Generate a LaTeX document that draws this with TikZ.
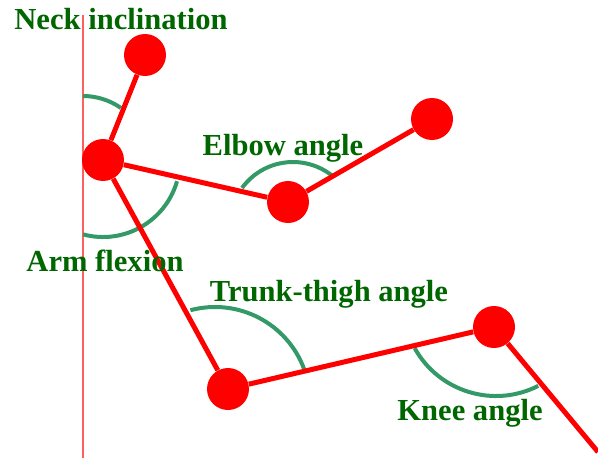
\documentclass[tikz,border=0pt]{standalone}
\usepackage{fontspec}
\setmainfont{Liberation Serif}
\usetikzlibrary{positioning}
\definecolor{limbred}{RGB}{255,0,0}
\definecolor{axisred}{RGB}{255,95,95}
\definecolor{arcgreen}{RGB}{51,153,102}
\definecolor{lblgreen}{RGB}{0,102,0}

\begin{document}
\begin{tikzpicture}[x=0.02cm, y=0.02cm,
    joint/.style={circle, fill=limbred, inner sep=0pt, minimum size=0.84cm},
    limb/.style={limbred, line width=0.1cm},
    anglearc/.style={arcgreen, line width=0.08cm},
    axisline/.style={axisred, line width=0.03cm},
    lbl/.style={text=lblgreen, font=\fontsize{17.4}{20}\selectfont\bfseries, anchor=base, inner sep=0pt}]
    \useasboundingbox (0,0) rectangle (598,458);
    % vertical reference
    \coordinate (vtop) at (83,443);
    \coordinate (vbot) at (83,0);
    \draw[axisline] (vtop) -- (vbot);
    % angle arcs
    \draw[anglearc] (83,296) ++(90:66) arc[start angle=90, end angle=55, radius=66];
    \draw[anglearc] (103,298) ++(-105:77) arc[start angle=-105, end angle=-16, radius=77];
    \draw[anglearc] (293,233) ++(144:63) arc[start angle=144, end angle=50, radius=63];
    \draw[anglearc] (215,56) ++(105:95) arc[start angle=105, end angle=20, radius=95];
    \draw[anglearc] (496,155) ++(209:93) arc[start angle=209, end angle=297, radius=93];
    % joints
    \node[joint] (head) at (145,403) {};
    \node[joint] (shoulder) at (103,298) {};
    \node[joint] (elbow) at (288,256) {};
    \node[joint] (hand) at (432,339) {};
    \node[joint] (hip) at (228,69) {};
    \node[joint] (knee) at (494,131) {};
    \coordinate (foot) at (598,6);
    % limbs
    \draw[limb] (shoulder) -- (head);
    \draw[limb] (shoulder) -- (elbow);
    \draw[limb] (elbow) -- (hand);
    \draw[limb] (shoulder) -- (hip);
    \draw[limb] (hip) -- (knee);
    \draw[limb] (knee) -- (foot);
    % labels
    \node[lbl] (necklbl) at (121,429) {Neck inclination};
    \node[lbl] (elbowlbl) at (283,303) {Elbow angle};
    \node[lbl] (armlbl) at (105,187) {Arm flexion};
    \node[lbl] (trunklbl) at (329,157) {Trunk-thigh angle};
    \node[lbl] (kneelbl) at (470,38) {Knee angle};
\end{tikzpicture}
\end{document}
